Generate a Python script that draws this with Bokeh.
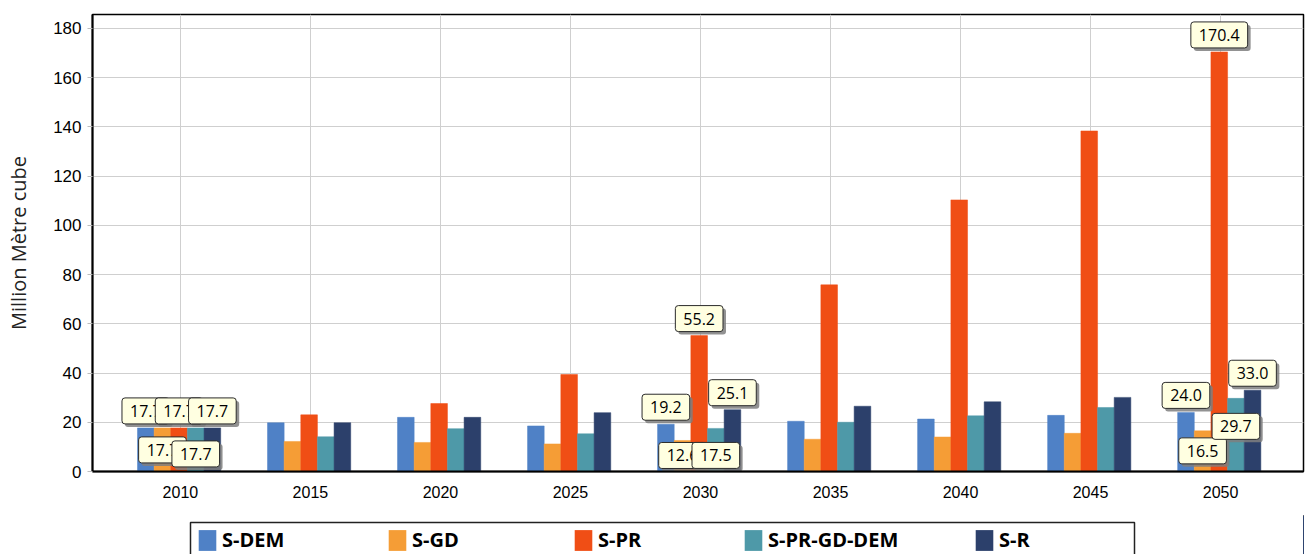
from bokeh.plotting import figure
from bokeh.models import (Range1d, FixedTicker, Legend, LegendItem, ColumnDataSource, BoxAnnotation)
from bokeh.layouts import column
from bokeh.core.properties import value
from bokeh.embed import file_html
from bokeh.resources import INLINE

# ---------------- data ----------------
years = [2010, 2015, 2020, 2025, 2030, 2035, 2040, 2045, 2050]
series_names = ["S-DEM", "S-GD", "S-PR", "S-PR-GD-DEM", "S-R"]
s_dem = [17.7, 19.8, 22.0, 18.5, 19.2, 20.4, 21.3, 22.8, 24.0]
s_gd = [17.7, 12.2, 11.8, 11.2, 12.6, 13.1, 14.0, 15.5, 16.5]
s_pr = [17.7, 23.0, 27.6, 39.4, 55.2, 75.8, 110.3, 138.3, 170.4]
s_pr_gd_dem = [17.7, 14.1, 17.4, 15.3, 17.5, 20.0, 22.6, 26.0, 29.7]
s_r = [17.7, 19.8, 22.0, 23.9, 25.1, 26.5, 28.3, 30.1, 33.0]
labelled_years = [2010, 2030, 2050]
y_ticks = [0, 20, 40, 60, 80, 100, 120, 140, 160, 180]

series_values = [s_dem, s_gd, s_pr, s_pr_gd_dem, s_r]

# ---------------- style ----------------
colors = ["#4f81c6", "#f59d36", "#f04e15", "#4e99a8", "#2c406b"]
bar_w = 0.64          # in year units
label_side = ["above", "below", "above", "below", "above"]
below_offsets = {  # pixel offsets of the box top under the bar top
    (2010, 1): 9, (2010, 3): 13,
    (2030, 1): 2, (2030, 3): 14,
    (2050, 1): 7, (2050, 3): 15,
}
above_gap = 4
legend_item_x = [104, 294, 480, 650, 881]   # px from the plot frame's left edge

p = figure(width=1306, height=515, output_backend="svg", toolbar_location=None,
           x_range=Range1d(2006.62, 2053.19), y_range=Range1d(0, 185.6),
           min_border_left=92, min_border_right=3, min_border_top=14, min_border_bottom=44)
p.background_fill_color = "white"
p.border_fill_color = "white"
p.outline_line_color = "black"
p.outline_line_width = 1.5

for i, (name, vals) in enumerate(zip(series_names, series_values)):
    xs = [y + (i - 2) * bar_w - 0.05 for y in years]
    src = ColumnDataSource(dict(x=xs, top=vals))
    p.vbar(x="x", top="top", width=bar_w, bottom=0, source=src,
           fill_color=colors[i], line_color=colors[i], line_width=0.5)

# ---------------- value labels ----------------
lab = dict(x=[], y=[], text=[], anchor=[], yoff=[])
for yr in labelled_years:
    k = years.index(yr)
    for i, vals in enumerate(series_values):
        v = vals[k]
        lab["x"].append(yr + (i - 2) * bar_w - 0.05)
        lab["y"].append(v)
        lab["text"].append(f"{v:.1f}")
        if label_side[i] == "above":
            lab["anchor"].append("bottom_center")
            lab["yoff"].append(-above_gap)
        else:
            lab["anchor"].append("top_center")
            lab["yoff"].append(below_offsets[(yr, i)])
lab["yoff_sh"] = [o + 3 for o in lab["yoff"]]
lsrc = ColumnDataSource(lab)

common = dict(x="x", y="y", text="text", anchor="anchor", source=lsrc,
              text_font=value("Open Sans"), text_font_size="16px",
              text_align="center", text_baseline="middle",
              padding=(8, 7), border_radius=3)
p.text(y_offset="yoff_sh", x_offset=3, text_alpha=0.0,
       background_fill_color="#7f7f7f", background_fill_alpha=0.85,
       border_line_color=None, **common)
p.text(y_offset="yoff", x_offset=0, text_color="black",
       background_fill_color="#ffffe1", border_line_color="#2b2b2b",
       border_line_width=1, **common)

# ---------------- axes ----------------
p.xaxis.ticker = FixedTicker(ticks=years)
p.xaxis.major_label_text_font = "Liberation Sans"
p.xaxis.major_label_text_font_size = "16px"
p.xaxis.major_label_text_color = "black"
p.xaxis.axis_line_color = "black"
p.xaxis.axis_line_width = 2
p.xaxis.major_tick_line_color = None
p.xaxis.minor_tick_line_color = None
p.xaxis.major_label_standoff = 8

p.yaxis.ticker = FixedTicker(ticks=y_ticks)
p.yaxis.major_label_text_font = "Liberation Sans"
p.yaxis.major_label_text_font_size = "17px"
p.yaxis.major_label_text_color = "black"
p.yaxis.axis_line_color = "black"
p.yaxis.axis_line_width = 2
p.yaxis.major_tick_line_color = "#bdbdbd"
p.yaxis.major_tick_out = 5
p.yaxis.major_tick_in = 0
p.yaxis.minor_tick_line_color = None
p.yaxis.major_label_standoff = 6
p.yaxis.axis_label = "Million Mètre cube"
p.yaxis.axis_label_text_font = "Open Sans"
p.yaxis.axis_label_text_font_style = "normal"
p.yaxis.axis_label_text_font_size = "20px"
p.yaxis.axis_label_text_color = "#222222"
p.yaxis.axis_label_standoff = 18

p.xgrid.ticker = FixedTicker(ticks=years)
p.xgrid.grid_line_color = "#cfcfcf"
p.ygrid.grid_line_color = "#cfcfcf"

# ---------------- legend (own strip below the chart) ----------------
pl = figure(width=1306, height=39, output_backend="svg", toolbar_location=None,
            x_range=Range1d(0, 1), y_range=Range1d(0, 1),
            x_axis_type=None, y_axis_type=None, min_border=0)
pl.outline_line_color = None
pl.background_fill_color = "white"
pl.border_fill_color = "white"

# legend frame box (canvas pixels of this strip)
pl.add_layout(BoxAnnotation(left=190, right=1134, top=7, bottom=60,
                            left_units="canvas", right_units="canvas",
                            top_units="canvas", bottom_units="canvas",
                            fill_color="white", fill_alpha=1.0,
                            line_color="#222222", line_alpha=1.0, line_width=1.5))

# each series' renderer in this strip only supplies a legend swatch (zero-width, out of view)
for i, (name, vals) in enumerate(zip(series_names, series_values)):
    src = ColumnDataSource(dict(x=years, top=vals))
    r = pl.vbar(x="x", top="top", width=0, source=src,
                fill_color=colors[i], line_color=None)
    leg = Legend(items=[LegendItem(label=name, renderers=[r])],
                 orientation="horizontal", location=(legend_item_x[i], 1),
                 glyph_width=22, glyph_height=26, label_standoff=4,
                 spacing=0, padding=0, margin=0,
                 label_text_font="Open Sans", label_text_font_style="bold",
                 label_text_font_size="20px", label_text_color="black",
                 border_line_color=None, background_fill_alpha=0.0)
    pl.add_layout(leg, "center")

layout = column(p, pl, spacing=0)
open("out.html", "w").write(file_html(layout, INLINE))
